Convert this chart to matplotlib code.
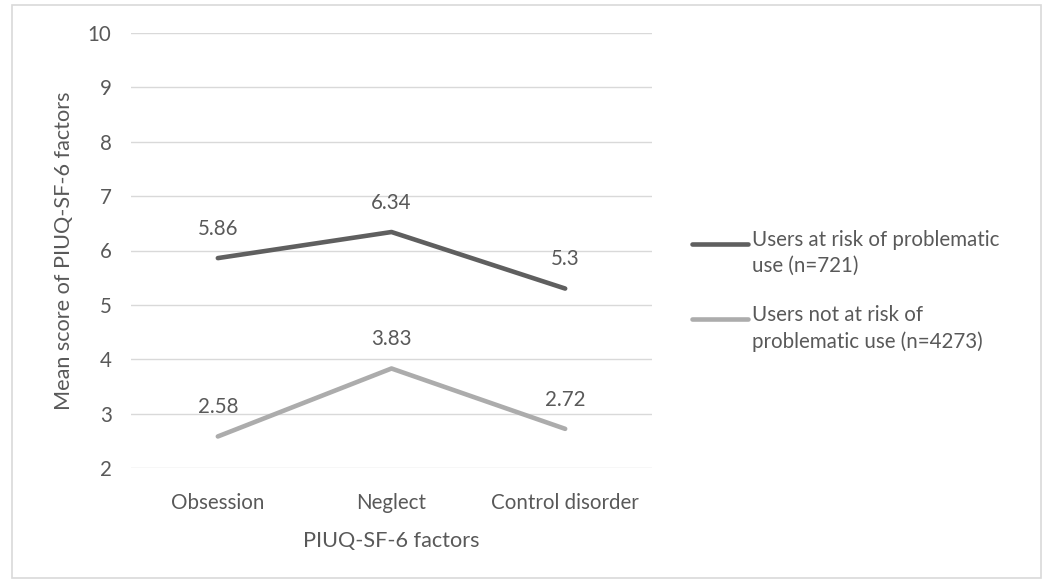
import matplotlib
matplotlib.use("Agg")
import matplotlib.pyplot as plt
from matplotlib.lines import Line2D
from matplotlib.patches import Rectangle

plt.rcParams['font.family'] = ['Lato', 'DejaVu Sans']

# data
factors = ['Obsession', 'Neglect', 'Control disorder']
at_risk = [5.86, 6.34, 5.3]
not_at_risk = [2.58, 3.83, 2.72]
series_labels = ['Users at risk of problematic\nuse (n=721)',
                 'Users not at risk of\nproblematic use (n=4273)']
y_ticks = [2, 3, 4, 5, 6, 7, 8, 9, 10]

TEXT = '#595959'
DARK = '#5f5f5f'
LIGHT = '#acacac'
GRID = '#d9d9d9'
FS = 14.8

W, H = 1047, 584
fig = plt.figure(figsize=(W / 100, H / 100), dpi=100)
ax = fig.add_axes([131 / W, 1 - 468 / H, (652 - 131) / W, (468 - 33) / H])

x = range(len(factors))
for vals, col in [(at_risk, DARK), (not_at_risk, LIGHT)]:
    ax.plot(x, vals, color=col, lw=3.3, solid_capstyle='round', zorder=3)
    for xi, v in zip(x, vals):
        ax.annotate(f'{v:g}', (xi, v), xytext=(0, 21), textcoords='offset points',
                    ha='center', va='center', fontsize=FS, color=TEXT)

ax.set_xlim(-0.5, 2.5)
ax.set_ylim(2, 10)
ax.set_yticks(y_ticks)
ax.set_xticks(list(x))
ax.set_xticklabels(factors)
ax.grid(axis='y', color=GRID, lw=1)
ax.set_axisbelow(True)
for s in ax.spines.values():
    s.set_visible(False)
ax.tick_params(length=0, labelsize=FS, colors=TEXT)
ax.tick_params(axis='y', pad=14)
ax.tick_params(axis='x', pad=18)
ax.set_xlabel('PIUQ-SF-6 factors', fontsize=FS + 0.8, color=TEXT, labelpad=13)
ax.set_ylabel('Mean score of PIUQ-SF-6 factors', fontsize=FS + 0.8, color=TEXT, labelpad=10)

# legend drawn by hand so the handle sits at the first text line
for lab, col, yp in [(series_labels[0], DARK, 244), (series_labels[1], LIGHT, 319)]:
    fy = 1 - yp / H
    fig.add_artist(Line2D([692 / W, 748 / W], [fy, fy], color=col, lw=3.3,
                          solid_capstyle='round'))
    fig.text(752 / W, 1 - (yp - 14) / H, lab, fontsize=FS, color=TEXT,
             ha='left', va='top', linespacing=1.38)

# chart border
fig.add_artist(Rectangle((12 / W, 1 - 578 / H), (1041 - 12) / W, (578 - 5) / H,
                         fill=False, edgecolor=GRID, lw=1.2, transform=fig.transFigure))

fig.savefig('out.png', dpi=100)
